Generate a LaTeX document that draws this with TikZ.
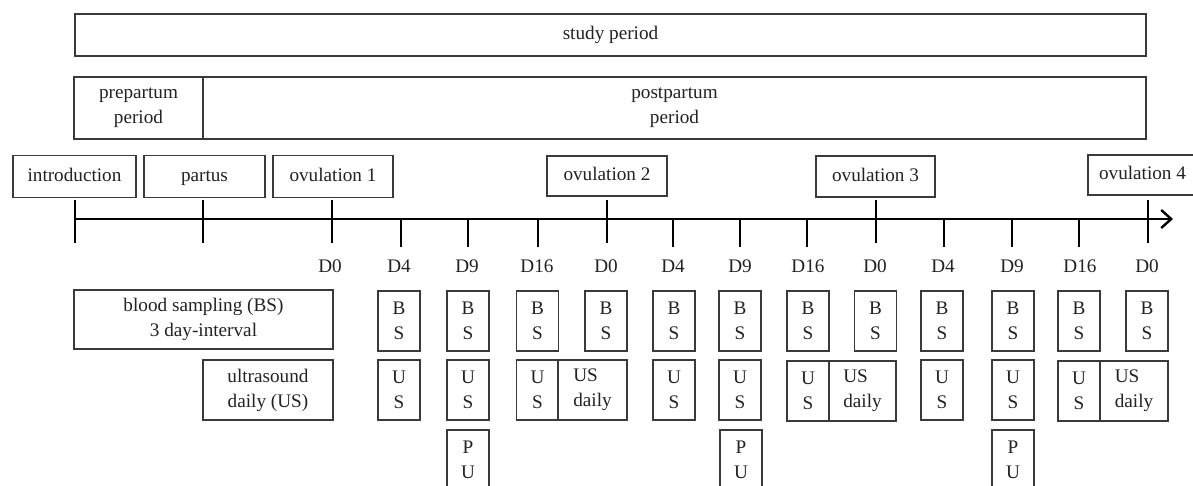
\documentclass[tikz,border=0pt]{standalone}
\usepackage{fontspec}
\setmainfont{Liberation Serif}
\usetikzlibrary{arrows.meta}
\definecolor{ink}{HTML}{222222}
\definecolor{frame}{HTML}{3A3A3A}
\begin{document}
\begin{tikzpicture}[x=0.5pt,y=-0.5pt,
  every node/.style={font=\fontsize{9.6}{12.5}\selectfont, text=ink},
  box/.style={draw=frame, line width=0.6pt, rectangle, inner sep=0pt, align=center},
  cell/.style={box, minimum width=21pt, minimum height=30pt},
  event/.style={box, minimum height=21pt, text height=7pt, text depth=2.4pt},
  axisline/.style={line width=1.3pt, -{Straight Barb[length=5pt,width=9pt,line width=1.2pt]}},
  tick/.style={line width=1.3pt},
  daylab/.style={inner sep=0pt, text height=7pt, text depth=0pt}]
\useasboundingbox (0,0) rectangle (1193,486);
\clip (0,0) rectangle (1193,486);

% period bars
\node[box, minimum width=535.5pt, minimum height=21pt] (study) at (610.5,35) {study period};
\node[box, minimum width=64.5pt, minimum height=31pt] (pre) at (138.5,108) {prepartum\\period};
\node[box, minimum width=471.5pt, minimum height=31pt] (post) at (674.5,108) {postpartum\\period};

% events above the time line
\node[event, minimum width=61.5pt] (intro) at (74.5,176.5) {introduction};
\node[event, minimum width=60.5pt] (partus) at (204.5,176.5) {partus};
\node[event, minimum width=60pt] (ov1) at (333,176.5) {ovulation 1};
\node[event, minimum width=60pt, minimum height=20pt] (ov2) at (607,176) {ovulation 2};
\node[event, minimum width=59.5pt, minimum height=20.5pt] (ov3) at (875.5,176.5) {ovulation 3};
\node[event, minimum width=54.5pt, minimum height=20pt] (ov4) at (1142.5,175) {ovulation 4};

% time line
\coordinate (t0) at (75,219);
\coordinate (tend) at (1173,219);
\draw[axisline] (t0) -- (tend);

% event ticks crossing the line
\foreach \x/\n in {75/a,203/b,332/c,607/d,876/e,1148/f}{
  \coordinate (mt\n) at (\x,200);
  \coordinate (mb\n) at (\x,243);
  \draw[tick] (mt\n) -- (mb\n);
}
% day ticks below the line
\foreach \x/\n in {401/a,468/b,538/c,673/d,740/e,807/f,944/g,1012/h,1079/i}{
  \coordinate (st\n) at (\x,219);
  \coordinate (sb\n) at (\x,247);
  \draw[tick] (st\n) -- (sb\n);
}

% day labels
\foreach \x/\t/\n in {330/D0/a,399/D4/b,467/D9/c,537/D16/d,606/D0/e,673/D4/f,740/D9/g,808/D16/h,875/D0/i,943/D4/j,1012/D9/k,1080/D16/l,1147/D0/m}{
  \node[daylab] (day\n) at (\x,265) {\t};
}

% blood sampling row
\node[box, minimum width=129.5pt, minimum height=29.5pt] (bsrow) at (203.5,319.5) {blood sampling (BS)\\3 day-interval};
\foreach \x/\n in {399/a,468/b,537.5/c,606/d,674/e,740/f,808/g,875.5/h,942/i,1013/j,1079/k,1147/l}{
  \node[cell] (bs\n) at (\x,321) {B\\S};
}

% ultrasound row
\node[box, minimum width=65pt, minimum height=30pt] (usrow) at (268,390) {ultrasound\\daily (US)};
\foreach \x/\n in {399/a,468/b,674/c,740/d,942/e,1013/f}{
  \node[cell] (us\n) at (\x,390) {U\\S};
}
\node[cell] (usg) at (537.5,390) {U\\S};
\node[box, align=left, minimum width=34.5pt, minimum height=30pt] (usdg) at (592.5,390) {US\\daily};
\node[cell] (ush) at (808,391) {U\\S};
\node[box, align=left, minimum width=33.5pt, minimum height=30pt] (usdh) at (862.5,391) {US\\daily};
\node[cell] (usi) at (1079,391) {U\\S};
\node[box, align=left, minimum width=34pt, minimum height=30pt] (usdi) at (1134,391) {US\\daily};

% bottom row
\foreach \x/\n in {468/a,741/b,1013/c}{
  \node[cell] (pu\n) at (\x,460) {P\\U};
}
\end{tikzpicture}
\end{document}
